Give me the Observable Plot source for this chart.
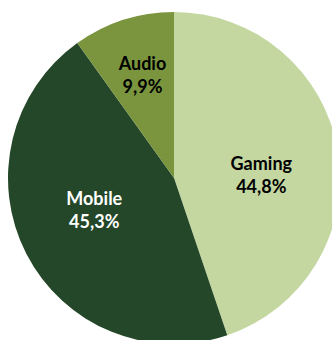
<!DOCTYPE html>
<html><head><meta charset="utf-8">
<script src="https://cdn.jsdelivr.net/npm/d3@7"></script>
<script src="https://cdn.jsdelivr.net/npm/@observablehq/plot@0.6"></script>
<style>body{margin:0;background:#fff;overflow:hidden}</style>
</head><body><div id="chart"></div>
<script>
const categories = ["Gaming", "Mobile", "Audio"];
const shares = [44.8, 45.3, 9.9];
const shareLabels = ["44,8%", "45,3%", "9,9%"];
const colors = ["#c4d7a0", "#234728", "#7a953e"];
const textColors = ["#000000", "#ffffff", "#000000"];

// layout: label offsets in pixels (Excel "best fit" placement)
const labelNudge = [[0, 10], [-2, -10], [1, -2]];
const R = 166; // pie radius in px

const data = categories.map((c, i) => ({category: c, value: shares[i], label: shareLabels[i], i}));
const arcs = d3.pie().value(d => d.value).sort(null)(data);
const labelPts = arcs.map(a => {
  const mid = (a.startAngle + a.endAngle) / 2;
  const f = a.data.value < 20 ? 0.65 : 0.53;
  const [nx, ny] = labelNudge[a.data.i];
  return {...a.data,
    x: f * Math.sin(mid) + nx / R,
    y: f * Math.cos(mid) - ny / R,
    text: a.data.category + "\n" + a.data.label};
});

function pieMark(index, scales, values, dims, context) {
  const cx = scales.x(0), cy = scales.y(0), r = Math.abs(scales.x(1) - scales.x(0));
  const g = d3.create("svg:g").attr("transform", `translate(${cx},${cy})`);
  const arc = d3.arc().innerRadius(0).outerRadius(r);
  g.selectAll("path").data(arcs).join("path")
    .attr("d", arc)
    .attr("fill", d => colors[d.data.i]);
  return g.node();
}

const chart = Plot.plot({
  width: 332,
  height: 340,
  margin: 0,
  style: {background: "#fff"},
  x: {domain: [-1, 1], range: [174 - R, 174 + R], axis: null},
  y: {domain: [-1, 1], range: [178 + R, 178 - R], axis: null},
  color: {type: "identity"},
  marks: [
    pieMark,
    Plot.text(labelPts, {
      x: "x", y: "y", text: "text",
      fill: d => textColors[d.i],
      fontFamily: "Lato", fontWeight: "bold", fontSize: 18,
      lineHeight: 1.28, textAnchor: "middle"
    })
  ]
});
document.getElementById("chart").appendChild(chart);
</script>
</body></html>
